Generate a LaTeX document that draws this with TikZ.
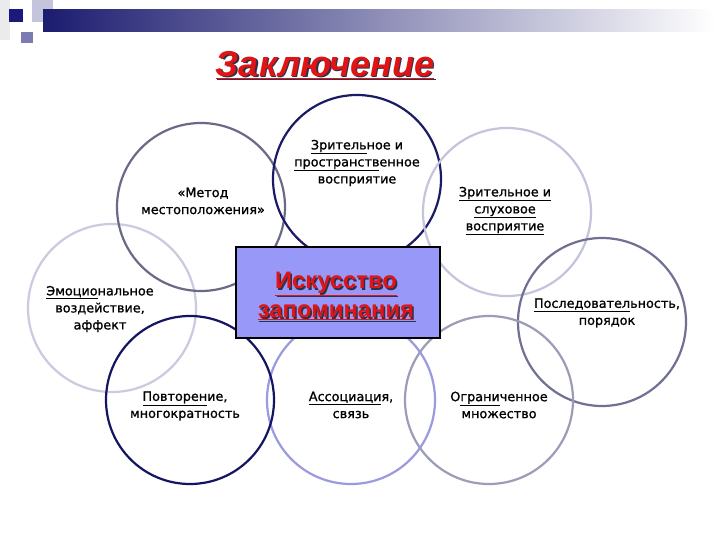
\documentclass[tikz,border=0pt]{standalone}
\usepackage{fontspec}
\setmainfont{Liberation Sans}
\newfontfamily\dvs[FakeBold=1]{DejaVu Sans}
\definecolor{navybar}{HTML}{1C1C70}
\definecolor{titlered}{HTML}{E01414}
\definecolor{shadowcol}{HTML}{30304A}
\definecolor{boxblue}{HTML}{9898F8}
\definecolor{metodcol}{HTML}{6A6A88}
\definecolor{prostrcol}{HTML}{1A1A66}
\definecolor{sluhcol}{HTML}{C4C4DC}
\definecolor{poslcol}{HTML}{707092}
\definecolor{ogrcol}{HTML}{9C9CB8}
\definecolor{assoccol}{HTML}{9A9AE0}
\definecolor{povtcol}{HTML}{141462}
\definecolor{emocol}{HTML}{CACAE0}

\begin{document}
\begin{tikzpicture}[x=1pt, y=-1pt,
  ring/.style={circle, minimum size=168pt, inner sep=0pt, line width=2.2pt},
  txt/.style={align=center, font=\dvs\fontsize{12.8}{17}\selectfont},
  headline/.style={font=\bfseries\itshape\fontsize{36}{40}\selectfont},
  boxline/.style={align=center, font=\bfseries\fontsize{23.8}{29}\selectfont}]
  \useasboundingbox[fill=white] (0,0) rectangle (720,540);
  % top decoration
  \fill[black!8] (0,0) rectangle (10,40);
  \fill[sluhcol] (32,0) rectangle (53,22);
  \fill[assoccol!80!black] (21,32) rectangle (33,43);
  \shade[left color=navybar, right color=white] (43,10) rectangle (715,32);
  \fill[navybar!90!blue] (9,9) rectangle (23,22);
  % title
  \node[headline, text=shadowcol] (titleshadow) at (326.5,66.5) {\underline{Заключение}};
  \node[headline, text=titlered] (title) at (325,65) {\underline{Заключение}};
  % circles
  \node[ring, draw=emocol] (emo) at (112,308) {};
  \node[ring, draw=metodcol] (metod) at (201,207) {};
  \node[ring, draw=prostrcol] (prostr) at (357,179) {};
  \node[ring, draw=sluhcol] (sluh) at (507,212) {};
  \node[ring, draw=poslcol] (posl) at (602,322) {};
  \node[ring, draw=ogrcol] (ogr) at (489,400) {};
  \node[ring, draw=assoccol] (assoc) at (351,400) {};
  \node[ring, draw=povtcol] (povt) at (190,400) {};
  % centre box
  \node[draw=black, fill=boxblue, line width=1.2pt, minimum width=204pt, minimum height=91pt] (box) at (338,292.5) {};
  \node[boxline, text=shadowcol] (boxshadow) at (337.5,297.5) {\underline{Искусство}\\\underline{запоминания}};
  \node[boxline, text=titlered] (boxtext) at (336,296) {\underline{Искусство}\\\underline{запоминания}};
  % labels
  \node[txt] (metodtext) at (203,201) {«Метод\\местоположения»};
  \node[txt] (prostrtext) at (357,163) {\underline{Зритель}ное и\\\underline{пространств}енное\\восприятие};
  \node[txt] (sluhtext) at (505,211) {\underline{Зрительное и}\\\underline{слуховое}\\\underline{восприятие}};
  \node[txt] (posltext) at (607,313) {\underline{Последовател}ьность,\\порядок};
  \node[txt] (ogrtext) at (499,405) {О\underline{грани}ченное\\множество};
  \node[txt] (assoctext) at (351,405) {\underline{Ассоциаци}я,\\связь};
  \node[txt] (povttext) at (185,406) {\underline{Повторен}ие,\\многократность};
  \node[txt] (emotext) at (100,309) {\underline{Эмоцио}нальное\\воздействие,\\аффект};
\end{tikzpicture}
\end{document}
